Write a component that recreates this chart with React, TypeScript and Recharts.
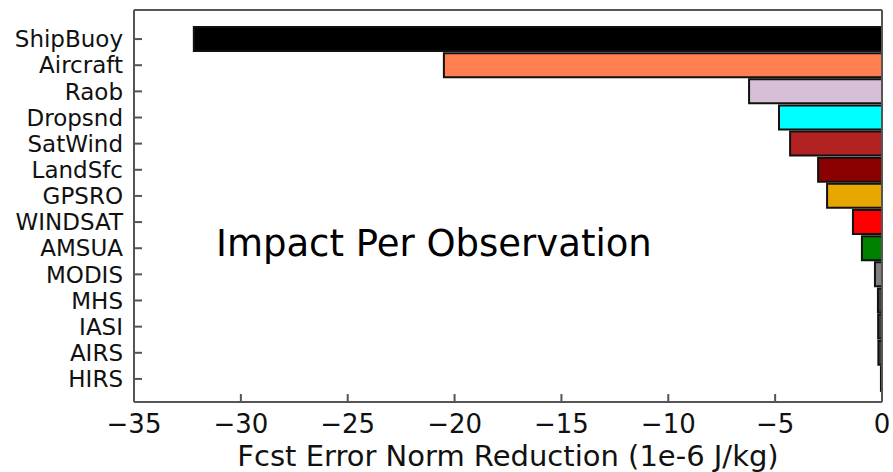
import React from 'react';
import { BarChart, Bar, XAxis, YAxis, Cell } from 'recharts';

const categories = ['ShipBuoy', 'Aircraft', 'Raob', 'Dropsnd', 'SatWind', 'LandSfc', 'GPSRO', 'WINDSAT', 'AMSUA', 'MODIS', 'MHS', 'IASI', 'AIRS', 'HIRS'];
const impact = [-32.2, -20.5, -6.22, -4.82, -4.3, -2.99, -2.57, -1.36, -0.94, -0.33, -0.19, -0.18, -0.17, -0.05];
const colors = ['#000000', '#ff7f50', '#d8bfd8', '#00ffff', '#b22222', '#8b0000', '#e8a600', '#ff0000', '#008000', '#808080', '#404040', '#404040', '#404040', '#404040'];
const xTicks = [-35, -30, -25, -20, -15, -10, -5, 0];

const data = categories.map((name, i) => ({ name, value: impact[i] }));

const font = '"DejaVu Sans", Verdana, sans-serif';
const axisColor = '#555555';

const fmt = (v: number) => (v < 0 ? '\u2212' + Math.abs(v) : String(v));

export default function App() {
  return (
    <div style={{ position: 'absolute', left: 0, top: 0, width: 893, height: 472, background: '#fff', fontFamily: font }}>
      <BarChart
        width={893}
        height={472}
        data={data}
        layout="vertical"
        margin={{ top: 9, right: 10, bottom: 0, left: 0 }}
      >
        <XAxis
          xAxisId="top"
          orientation="top"
          type="number"
          domain={[-35, 0]}
          ticks={xTicks}
          tickFormatter={() => ''}
          height={1}
          tickSize={-8}
          stroke={axisColor}
          strokeWidth={2}
        />
        <XAxis
          type="number"
          domain={[-35, 0]}
          ticks={xTicks}
          tickFormatter={fmt}
          height={70}
          tickSize={-8}
          tickMargin={21}
          stroke={axisColor}
          strokeWidth={2}
          tick={{ fill: '#111', fontSize: 26, fontFamily: font }}
          label={{ value: 'Fcst Error Norm Reduction (1e-6 J/kg)', position: 'insideBottom', offset: 6, fill: '#111', fontSize: 29, fontFamily: font }}
        />
        <YAxis
          type="category"
          dataKey="name"
          width={134}
          padding={{ top: 16, bottom: 10 }}
          tickSize={-8}
          tickMargin={19}
          stroke={axisColor}
          strokeWidth={2}
          interval={0}
          tick={{ fill: '#111', fontSize: 23, fontFamily: font }}
        />
        <YAxis
          yAxisId="right"
          orientation="right"
          type="category"
          dataKey="name"
          width={1}
          tick={false}
          tickLine={false}
          stroke={axisColor}
          strokeWidth={2}
        />
        <Bar dataKey="value" barSize={24} stroke="#111" strokeWidth={2} isAnimationActive={false}>
          {data.map((d, i) => (
            <Cell key={d.name} fill={colors[i]} />
          ))}
        </Bar>
      </BarChart>
      <div style={{ position: 'absolute', left: 216, top: 225, fontSize: 37, lineHeight: 1, color: '#000', whiteSpace: 'nowrap' }}>
        Impact Per Observation
      </div>
    </div>
  );
}
